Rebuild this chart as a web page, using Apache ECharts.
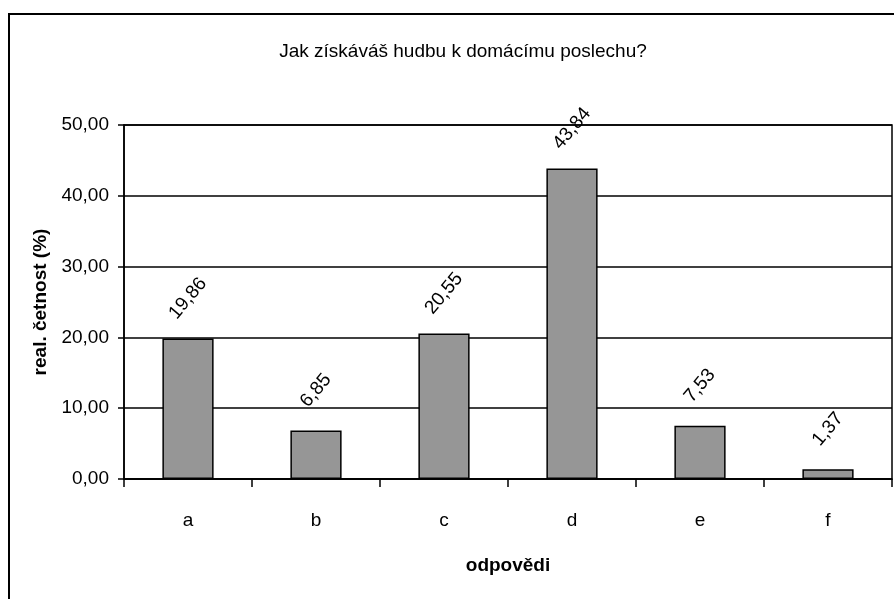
<!DOCTYPE html>
<html>
<head>
<meta charset="utf-8">
<script src="https://cdn.jsdelivr.net/npm/echarts@6/dist/echarts.min.js"></script>
<style>
html,body{margin:0;padding:0;background:#fff;}
#chart{width:894px;height:599px;}
</style>
</head>
<body>
<div id="chart"></div>
<script>
const titleText = 'Jak získáváš hudbu k domácímu poslechu?';
const categories = ['a', 'b', 'c', 'd', 'e', 'f'];
const values = [19.86, 6.85, 20.55, 43.84, 7.53, 1.37];
const yAxisName = 'real. četnost (%)';
const xAxisName = 'odpovědi';

const FONT = "'Liberation Sans', Arial, sans-serif";
const FS = 19;
const fmt = v => Number(v).toFixed(2).replace('.', ',');

const chart = echarts.init(document.getElementById('chart'), null, {renderer: 'canvas'});
chart.setOption({
  animation: false,
  backgroundColor: '#fff',
  textStyle: {fontFamily: FONT},
  title: {
    text: titleText,
    left: 458, textAlign: 'center', top: 37,
    textStyle: {fontFamily: FONT, fontSize: FS, fontWeight: 'normal', color: '#000'}
  },
  graphic: [{
    type: 'rect', silent: true, z: 100,
    shape: {x: 9, y: 14, width: 900, height: 620},
    style: {fill: 'none', stroke: '#000', lineWidth: 2}
  }],
  grid: {
    left: 124, right: 2, top: 125, bottom: 120,
    show: true, borderColor: '#000', borderWidth: 1.5, backgroundColor: '#fff'
  },
  xAxis: {
    type: 'category',
    data: categories,
    name: xAxisName,
    nameLocation: 'middle',
    nameGap: 77,
    nameTextStyle: {fontFamily: FONT, fontSize: FS, fontWeight: 'bold', color: '#000'},
    axisLine: {lineStyle: {color: '#000', width: 1.5}},
    axisTick: {show: true, alignWithLabel: false, inside: false, length: 8, lineStyle: {color: '#000', width: 1.5}},
    axisLabel: {fontFamily: FONT, fontSize: FS, color: '#000', margin: 32}
  },
  yAxis: {
    type: 'value',
    min: 0, max: 50, interval: 10,
    name: yAxisName,
    nameLocation: 'middle',
    nameGap: 66,
    nameTextStyle: {fontFamily: FONT, fontSize: FS, fontWeight: 'bold', color: '#000'},
    axisLine: {show: true, lineStyle: {color: '#000', width: 1.5}},
    axisTick: {show: true, length: 6, lineStyle: {color: '#000', width: 1.5}},
    axisLabel: {fontFamily: FONT, fontSize: FS, color: '#000', margin: 15, formatter: v => fmt(v)},
    splitLine: {show: true, lineStyle: {color: '#000', width: 1.5}}
  },
  series: [{
    type: 'bar',
    data: values,
    barWidth: '40%',
    itemStyle: {color: '#969696', borderColor: '#000', borderWidth: 1.5},
    label: {
      show: true, position: 'top', distance: 40, rotate: 50,
      align: 'center', verticalAlign: 'middle',
      fontFamily: FONT, fontSize: FS, color: '#000',
      formatter: p => fmt(p.value)
    }
  }]
});
</script>
</body>
</html>
